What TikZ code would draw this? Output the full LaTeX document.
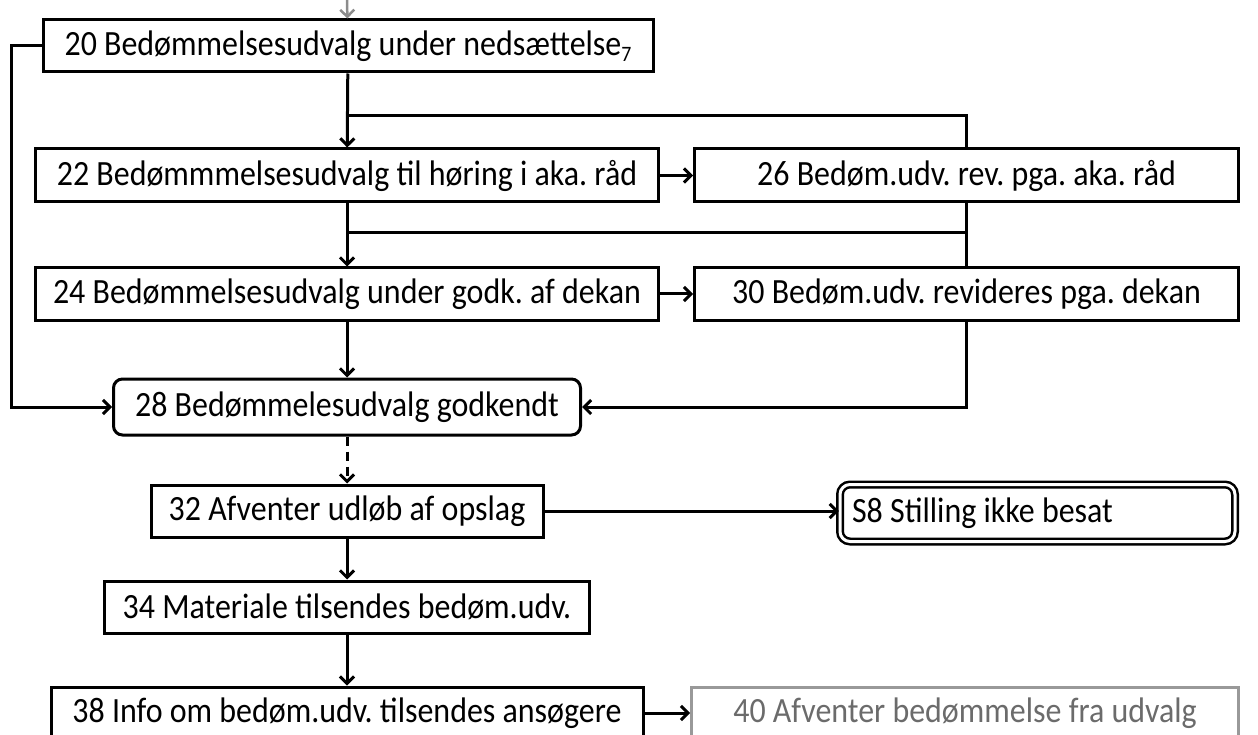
\documentclass[tikz,border=0pt]{standalone}
\usepackage{fontspec}
\setmainfont{Carlito}[FakeStretch=0.9]
\usetikzlibrary{arrows.meta}
\frenchspacing
\tikzset{
  stepbox/.style={draw,line width=3pt,inner sep=0pt,minimum height=52},
  flow/.style={line width=3pt,-{Straight Barb[length=7pt,width=14pt]}},
}
\begin{document}
\begin{tikzpicture}[x=1pt,y=-1pt,font=\fontsize{35.5}{42}\selectfont]
        \useasboundingbox (0,0) rectangle (1258,735);
        \begin{scope}[every node/.style={stepbox}]
          \node[minimum width=610] (n20) at (348,46) {20 Bedømmelsesudvalg under nedsættelse\raisebox{-6pt}{\fontsize{22}{22}\selectfont 7}};
          \node[minimum width=623,minimum height=53] (n22) at (347,175.5) {22 Bedømmmelsesudvalg til høring i aka. råd};
          \node[minimum width=544,minimum height=53] (n26) at (966.5,175.5) {26 Bedøm.udv. rev. pga. aka. råd};
          \node[minimum width=623] (n24) at (347,294) {24 Bedømmelsesudvalg under godk. af dekan};
          \node[minimum width=544] (n30) at (966.5,294) {30 Bedøm.udv. revideres pga. dekan};
          \node[minimum width=467,minimum height=56,rounded corners=9pt] (n28) at (347,407) {28 Bedømmelesudvalg godkendt};
          \node[minimum width=392] (n32) at (347,511) {32 Afventer udløb af opslag};
          \node[minimum width=395,minimum height=57,rounded corners=10pt,line width=2.5pt,
                double,double distance=3pt,inner xsep=12] (s8) at (1037.5,513) {\makebox[371pt][l]{S8 Stilling ikke besat}};
          \node[minimum width=485] (n34) at (347,607) {34 Materiale tilsendes bedøm.udv.};
          \node[minimum width=592] (n38) at (347,713) {38 Info om bedøm.udv. tilsendes ansøgere};
          \node[minimum width=547,draw=black!40,text=black!58] (n40) at (965,713) {40 Afventer bedømmelse fra udvalg};
        \end{scope}
        \coordinate (top) at (347,0);
        \coordinate (l1) at (11,46);
        \coordinate (j1) at (347,116);
        \coordinate (j2) at (347,233);
        \begin{scope}[every edge/.style={draw=black,flow}]
          \path (top) edge[draw=black!45,line width=2.5pt] (n20);
          \path (n20) edge (n22);
          \path (n22) edge (n26);
          \path (n22) edge (n24);
          \path (n24) edge (n30);
          \path (n24) edge (n28);
          \path (n28) edge[dashed,dash pattern=on 9pt off 6pt] (n32);
          \path (n32) edge (n32 -| s8.west);
          \path (n32) edge (n34);
          \path (n34) edge (n38);
          \path (n38) edge (n40);
        \end{scope}
        \draw[flow] (n20.west) -- (l1) |- (n28.west);
        \draw[flow] (n30.south) |- (n28.east);
        \draw[line width=3pt] (n26.north) |- (j1);
        \draw[line width=3pt] (n26.south) -- (n30.north);
        \draw[line width=3pt] (n26.south |- j2) -- (j2);
      \end{tikzpicture}
\end{document}
